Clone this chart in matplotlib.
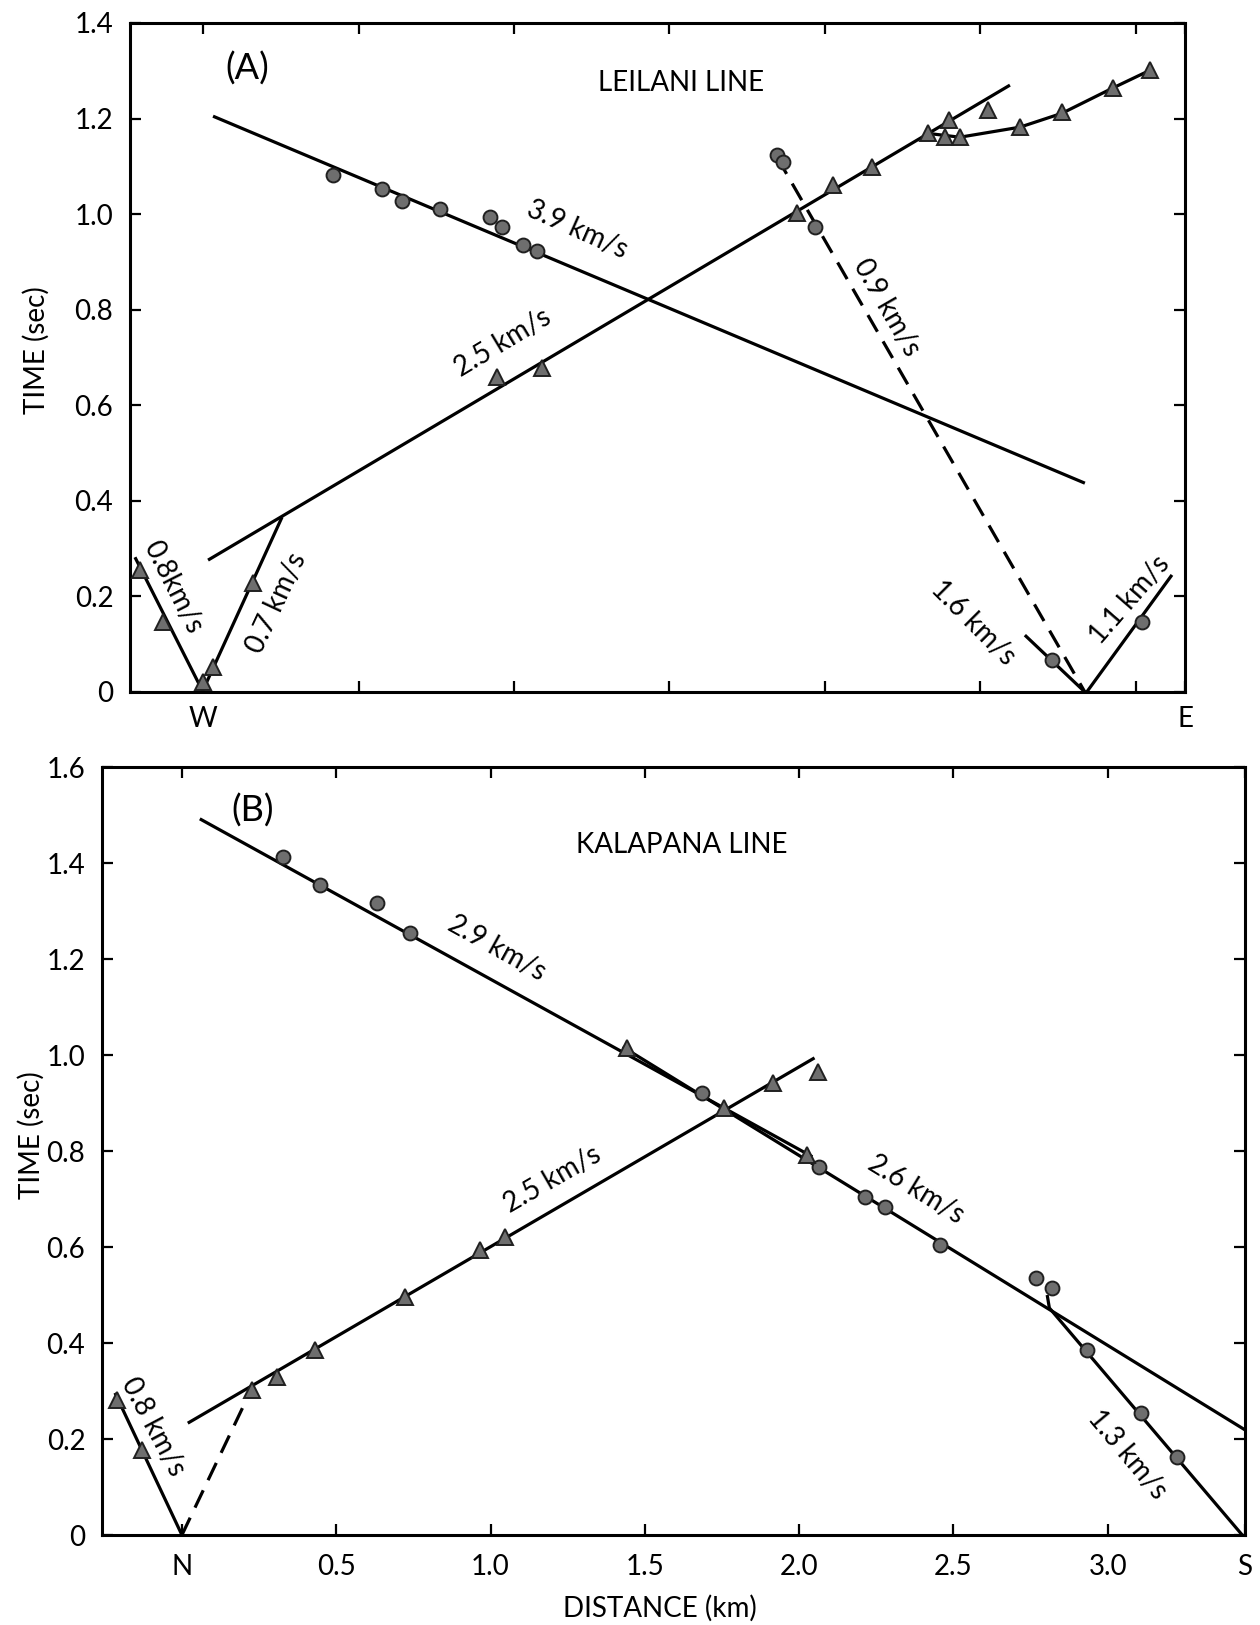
import matplotlib.pyplot as plt

plt.rcParams['font.family'] = ['Lato', 'DejaVu Sans']

# ---------------- (A) LEILANI LINE ----------------
# fitted travel-time lines (distance km, time sec)
a_39_x = [0.032, 2.836]
a_39_t = [1.205, 0.437]
a_25_x = [0.016, 2.595]
a_25_t = [0.276, 1.270]
a_branch_x = [2.331, 2.434, 2.627, 2.762, 2.926, 3.045]
a_branch_t = [1.169, 1.161, 1.182, 1.211, 1.264, 1.301]
a_07_x = [0.0, 0.254]
a_07_t = [0.004, 0.366]
a_08_x = [-0.219, 0.0]
a_08_t = [0.282, 0.0]
a_09_x = [1.846, 2.836]
a_09_t = [1.119, 0.0]
a_16_x = [2.643, 2.836]
a_16_t = [0.119, 0.0]
a_11_x = [2.842, 3.116]
a_11_t = [0.0, 0.245]

# picks
a_circ_x = [0.418, 0.576, 0.640, 0.762, 0.923, 0.961, 1.029, 1.074,
            1.846, 1.865, 1.968, 2.730, 3.019]
a_circ_t = [1.082, 1.052, 1.027, 1.010, 0.994, 0.973, 0.935, 0.923,
            1.123, 1.109, 0.973, 0.067, 0.146]
a_tri_x = [-0.203, -0.129, 0.0, 0.032, 0.161, 0.945, 1.090, 1.910, 2.026,
           2.151, 2.331, 2.398, 2.386, 2.434, 2.524, 2.627, 2.762, 2.926, 3.045]
a_tri_t = [0.255, 0.146, 0.02, 0.052, 0.228, 0.659, 0.678, 1.002, 1.061,
           1.098, 1.169, 1.196, 1.161, 1.161, 1.218, 1.182, 1.213, 1.264, 1.301]

# ---------------- (B) KALAPANA LINE ----------------
b_29_x = [0.058, 2.043]
b_29_t = [1.492, 0.788]
b_26_x = [1.428, 3.445]
b_26_t = [1.017, 0.219]
b_25_x = [0.019, 2.050]
b_25_t = [0.233, 0.994]
b_13_x = [2.804, 2.811, 3.436]
b_13_t = [0.500, 0.473, 0.0]
b_08_x = [-0.217, 0.0]
b_08_t = [0.296, 0.0]
b_dash_x = [0.0, 0.227]
b_dash_t = [0.0, 0.306]

b_circ_x = [0.327, 0.447, 0.631, 0.738, 1.684, 2.066, 2.212, 2.277,
            2.455, 2.769, 2.821, 2.934, 3.109, 3.225]
b_circ_t = [1.412, 1.354, 1.317, 1.254, 0.921, 0.767, 0.704, 0.683,
            0.604, 0.535, 0.515, 0.385, 0.254, 0.163]
b_tri_x = [-0.21, -0.13, 0.227, 0.307, 0.431, 0.722, 0.965, 1.046,
           1.441, 1.758, 1.914, 2.027, 2.06]
b_tri_t = [0.281, 0.177, 0.302, 0.330, 0.385, 0.496, 0.594, 0.621,
           1.015, 0.889, 0.942, 0.792, 0.965]

A_XLIM = (-0.235, 3.158)
B_XLIM = (-0.259, 3.445)

LW = 2.3
DASH = (0, (6, 3.5))
FS_TICK = 20
FS_LBL = 20
FS_TITLE = 20
FS_AXIS = 20


def style_axes(ax, xlim, ymax, xticks, xticklabels):
    ax.set_xlim(*xlim)
    ax.set_ylim(0, ymax)
    ax.set_xticks(xticks, xticklabels)
    yt = [round(0.2 * i, 1) for i in range(int(round(ymax / 0.2)) + 1)]
    ax.set_yticks(yt, ['0' if v == 0 else f'{v:.1f}' for v in yt])
    ax.tick_params(direction='in', top=True, right=True, length=8, width=1.6,
                   labelsize=FS_TICK)
    ax.tick_params(axis='y', pad=12)
    for s in ax.spines.values():
        s.set_linewidth(2.2)


def plot_picks(ax, cx, ct, tx, tt):
    ax.plot(cx, ct, 'o', ms=10, mfc='#6e6e6e', mec='#202020', mew=1.4,
            zorder=4, clip_on=False)
    ax.plot(tx, tt, '^', ms=11, mfc='#6e6e6e', mec='#202020', mew=1.4,
            zorder=4, clip_on=False)


fig = plt.figure(figsize=(12.6, 16.25), dpi=100)

# ---- panel A ----
ax = fig.add_axes([130 / 1260, 1 - 692 / 1625, 1055 / 1260, 669 / 1625])
for xs, ts in [(a_39_x, a_39_t), (a_25_x, a_25_t), (a_branch_x, a_branch_t),
               (a_07_x, a_07_t), (a_08_x, a_08_t), (a_16_x, a_16_t),
               (a_11_x, a_11_t)]:
    ax.plot(xs, ts, color='black', lw=LW, solid_capstyle='butt')
ax.plot(a_09_x, a_09_t, color='black', lw=LW, linestyle=DASH)
plot_picks(ax, a_circ_x, a_circ_t, a_tri_x, a_tri_t)
style_axes(ax, A_XLIM, 1.4,
           [0, 0.5, 1.0, 1.5, 2.0, 2.5, 3.0, A_XLIM[1]],
           ['W', '', '', '', '', '', '', 'E'])
ax.tick_params(axis='x', pad=10)

ax.text(0.141, 1.305, '(A)', fontsize=26, ha='center', va='center')
ax.text(1.537, 1.274, 'LEILANI LINE', fontsize=FS_TITLE, ha='center',
        va='center')
ax.text(1.203, 0.967, '3.9 km/s', fontsize=FS_LBL, rotation=-24,
        ha='center', va='center')
ax.text(0.965, 0.730, '2.5 km/s', fontsize=FS_LBL, rotation=31,
        ha='center', va='center')
ax.text(2.199, 0.805, '0.9 km/s', fontsize=FS_LBL, rotation=-60,
        ha='center', va='center')
ax.text(0.238, 0.186, '0.7 km/s', fontsize=FS_LBL, rotation=65,
        ha='center', va='center')
ax.text(-0.096, 0.220, '0.8km/s', fontsize=FS_LBL, rotation=-63,
        ha='center', va='center')
ax.text(2.476, 0.144, '1.6 km/s', fontsize=FS_LBL, rotation=-45,
        ha='center', va='center')
ax.text(2.981, 0.192, '1.1 km/s', fontsize=FS_LBL, rotation=49,
        ha='center', va='center')

# ---- panel B ----
bx = fig.add_axes([102 / 1260, 1 - 1535 / 1625, 1143 / 1260, 768 / 1625])
for xs, ts in [(b_29_x, b_29_t), (b_26_x, b_26_t), (b_25_x, b_25_t),
               (b_13_x, b_13_t), (b_08_x, b_08_t)]:
    bx.plot(xs, ts, color='black', lw=LW, solid_capstyle='butt')
bx.plot(b_dash_x, b_dash_t, color='black', lw=LW, linestyle=DASH)
plot_picks(bx, b_circ_x, b_circ_t, b_tri_x, b_tri_t)
style_axes(bx, B_XLIM, 1.6,
           [0, 0.5, 1.0, 1.5, 2.0, 2.5, 3.0, B_XLIM[1]],
           ['N', '0.5', '1.0', '1.5', '2.0', '2.5', '3.0', 'S'])
bx.tick_params(axis='x', pad=14)

bx.text(0.23, 1.51, '(B)', fontsize=26, ha='center', va='center')
bx.text(1.62, 1.437, 'KALAPANA LINE', fontsize=FS_TITLE, ha='center',
        va='center')
bx.text(1.02, 1.223, '2.9 km/s', fontsize=FS_LBL, rotation=-29,
        ha='center', va='center')
bx.text(1.201, 0.740, '2.5 km/s', fontsize=FS_LBL, rotation=30,
        ha='center', va='center')
bx.text(2.380, 0.719, '2.6 km/s', fontsize=FS_LBL, rotation=-31.5,
        ha='center', va='center')
bx.text(3.063, 0.167, '1.3 km/s', fontsize=FS_LBL, rotation=-50,
        ha='center', va='center')
bx.text(-0.094, 0.225, '0.8 km/s', fontsize=FS_LBL, rotation=-62,
        ha='center', va='center')

# axis titles
fig.text(36 / 1260, 1 - 350 / 1625, 'TIME (sec)', rotation=90,
         fontsize=FS_AXIS, ha='center', va='center')
fig.text(31 / 1260, 1 - 1135 / 1625, 'TIME (sec)', rotation=90,
         fontsize=FS_AXIS, ha='center', va='center')
fig.text(660 / 1260, 1 - 1608 / 1625, 'DISTANCE (km)', fontsize=FS_AXIS,
         ha='center', va='center')

fig.savefig('out.png', dpi=100)
